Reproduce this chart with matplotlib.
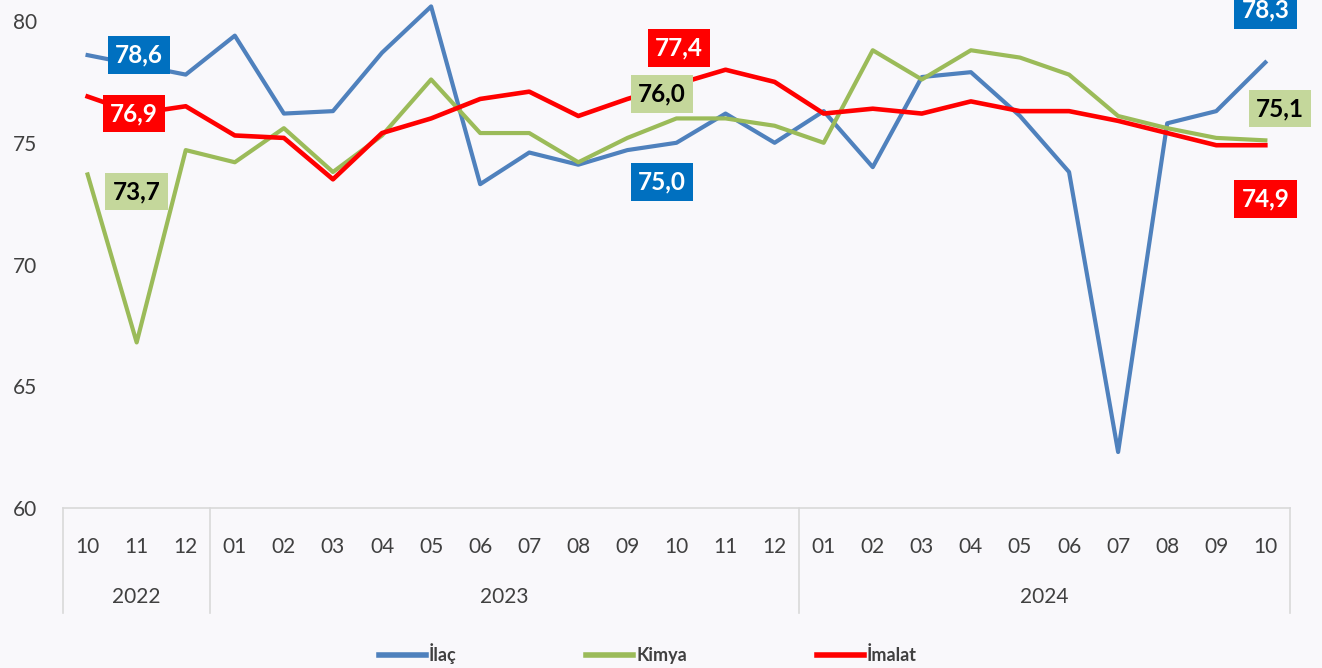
import matplotlib
matplotlib.use("Agg")
import matplotlib.pyplot as plt
import matplotlib.transforms as mtransforms

plt.rcParams['font.family'] = ['Lato', 'DejaVu Sans']

months = ["10", "11", "12", "01", "02", "03", "04", "05", "06", "07", "08", "09",
          "10", "11", "12", "01", "02", "03", "04", "05", "06", "07", "08", "09", "10"]
years = ["2022", "2023", "2024"]
year_spans = [(0, 2), (3, 14), (15, 24)]

ilac = [78.6, 78.2, 77.8, 79.4, 76.2, 76.3, 78.7, 80.6, 73.3, 74.6, 74.1, 74.7,
        75.0, 76.2, 75.0, 76.3, 74.0, 77.7, 77.9, 76.1, 73.8, 62.3, 75.8, 76.3, 78.3]
kimya = [73.7, 66.8, 74.7, 74.2, 75.6, 73.8, 75.3, 77.6, 75.4, 75.4, 74.2, 75.2,
         76.0, 76.0, 75.7, 75.0, 78.8, 77.6, 78.8, 78.5, 77.8, 76.1, 75.6, 75.2, 75.1]
imalat = [76.9, 76.2, 76.5, 75.3, 75.2, 73.5, 75.4, 76.0, 76.8, 77.1, 76.1, 76.8,
          77.4, 78.0, 77.5, 76.2, 76.4, 76.2, 76.7, 76.3, 76.3, 75.9, 75.4, 74.9, 74.9]

blue = "#4F81BD"
green = "#9BBB59"
red = "#FF0000"
bg = "#F9F8FB"

fig = plt.figure(figsize=(13.22, 6.68), dpi=100, facecolor=bg)
ax = fig.add_axes([0.0477, 0.2395, 0.928, 0.729])
ax.set_facecolor(bg)

x = list(range(len(months)))
ax.plot(x, ilac, color=blue, lw=3.0, label="İlaç", solid_joinstyle="round", clip_on=False)
ax.plot(x, kimya, color=green, lw=3.0, label="Kimya", solid_joinstyle="round", clip_on=False)
ax.plot(x, imalat, color=red, lw=3.3, label="İmalat", solid_joinstyle="round", clip_on=False)

ax.set_xlim(-0.5, 24.5)
ax.set_ylim(60, 80)
ax.set_yticks([60, 65, 70, 75, 80])
ax.set_xticks(x)
ax.set_xticklabels(months)
ax.tick_params(axis="both", length=0, labelsize=15, colors="#404040")
ax.tick_params(axis="x", pad=21)
ax.tick_params(axis="y", pad=19)
for s in ["top", "right", "left"]:
    ax.spines[s].set_visible(False)
ax.spines["bottom"].set_color("#D9D9D9")
ax.spines["bottom"].set_linewidth(1.2)

trans = mtransforms.blended_transform_factory(ax.transData, ax.transAxes)
for sep in [-0.5, 2.5, 14.5, 24.5]:
    ax.plot([sep, sep], [0, -0.216], transform=trans, color="#D9D9D9",
            lw=1.2, clip_on=False)
for yr, (a, b) in zip(years, year_spans):
    ax.text((a + b) / 2, -0.183, yr, transform=trans, ha="center", va="center",
            fontsize=15, color="#404040")

# value labels
def box_label(xv, yv, txt, fc, tc):
    ax.text(xv, yv, txt, ha="center", va="center", fontsize=17.5, fontweight="bold",
            color=tc, clip_on=False,
            bbox=dict(boxstyle="square,pad=0.3", fc=fc, ec="none"))

box_label(1.05, ilac[0], "78,6", "#0070C0", "white")
box_label(0.95, imalat[0] - 0.7, "76,9", red, "white")
box_label(1.0, kimya[0] - 0.7, "73,7", "#C4D79B", "black")
box_label(12.05, imalat[12] + 1.5, "77,4", red, "white")
box_label(11.7, kimya[12] + 1.0, "76,0", "#C4D79B", "black")
box_label(11.7, ilac[12] - 1.6, "75,0", "#0070C0", "white")
box_label(24.0, ilac[24] + 2.15, "78,3", "#0070C0", "white")
box_label(24.3, kimya[24] + 1.3, "75,1", "#C4D79B", "black")
box_label(24.0, imalat[24] - 2.2, "74,9", red, "white")

leg = fig.legend(loc="center", bbox_to_anchor=(0.49, 0.021), ncol=3, frameon=False,
                 handlelength=2.6, handletextpad=0.15, columnspacing=7.2,
                 prop={"size": 13, "weight": "bold"})
for t in leg.get_texts():
    t.set_color("#404040")
for h in leg.legend_handles:
    h.set_linewidth(4)

fig.savefig("out.png", dpi=100, facecolor=bg)
